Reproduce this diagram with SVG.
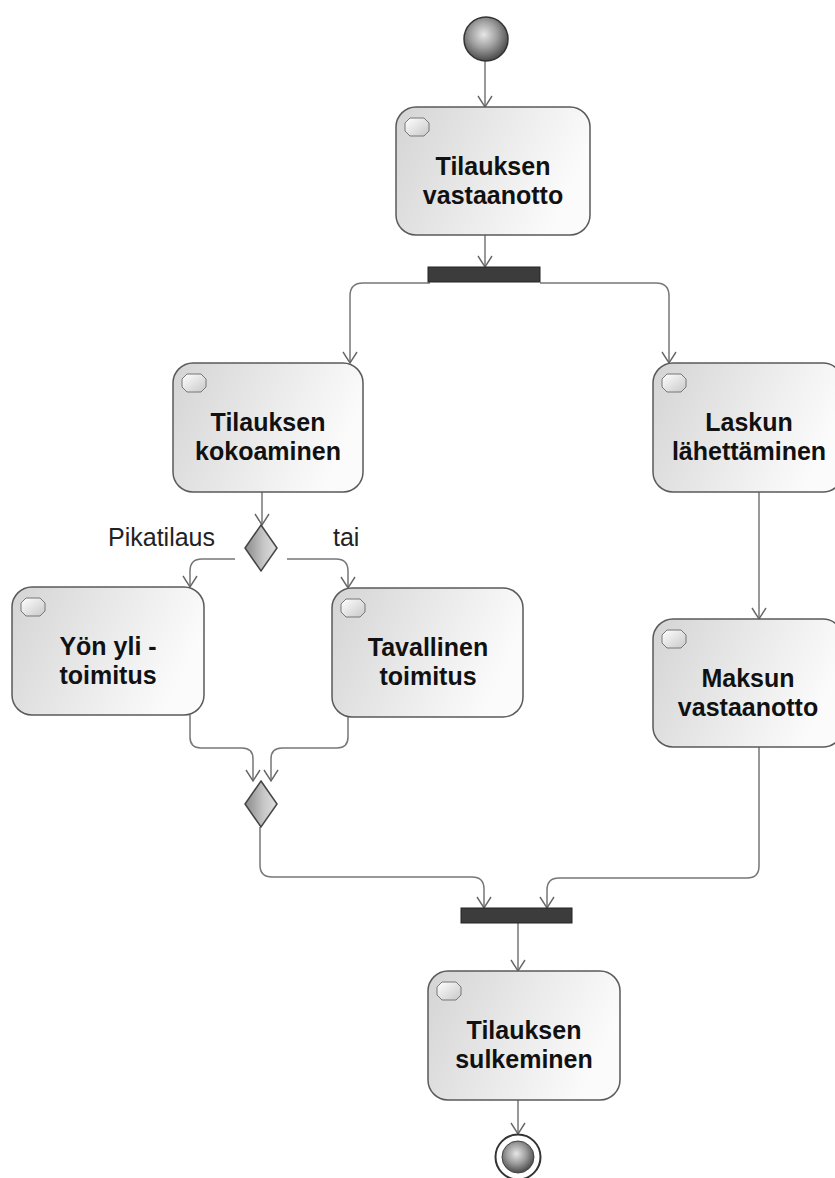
<svg xmlns="http://www.w3.org/2000/svg" width="835" height="1178" viewBox="0 0 835 1178">
<defs>
  <linearGradient id="boxGrad" x1="0" y1="0" x2="1" y2="0.3">
    <stop offset="0" stop-color="#d4d4d4"/>
    <stop offset="0.5" stop-color="#e8e8e8"/>
    <stop offset="1" stop-color="#fbfbfb"/>
  </linearGradient>
  <linearGradient id="iconGrad" x1="0" y1="0" x2="1" y2="1">
    <stop offset="0" stop-color="#ffffff"/>
    <stop offset="1" stop-color="#c8c8c8"/>
  </linearGradient>
  <linearGradient id="diaGrad" x1="0" y1="0" x2="1" y2="0">
    <stop offset="0" stop-color="#8a8a8a"/>
    <stop offset="0.6" stop-color="#c8c8c8"/>
    <stop offset="1" stop-color="#e0e0e0"/>
  </linearGradient>
  <radialGradient id="ballGrad" cx="0.45" cy="0.4" r="0.6">
    <stop offset="0" stop-color="#e6e6e6"/>
    <stop offset="0.5" stop-color="#a0a0a0"/>
    <stop offset="1" stop-color="#4a4a4a"/>
  </radialGradient>
  <marker id="arr" markerWidth="16" markerHeight="16" refX="12" refY="8" orient="auto" markerUnits="userSpaceOnUse">
    <path d="M1,1 L12,8 L1,15" fill="none" stroke="#666" stroke-width="1.4"/>
  </marker>
</defs>
<style>
  .box { fill: url(#boxGrad); stroke: #5a5a5a; stroke-width: 1.5; }
  .icon { fill: url(#iconGrad); stroke: #777; stroke-width: 1; }
  .lbl { font-family: "Liberation Sans", Arial, sans-serif; font-size: 25px; font-weight: bold; fill: #111; text-anchor: middle; }
  .guard { font-family: "Liberation Sans", Arial, sans-serif; font-size: 25px; fill: #222; }
  .bar { fill: #3c3c3c; stroke: #222; stroke-width: 1; }
  .dia { fill: url(#diaGrad); stroke: #444; stroke-width: 1.5; }
  .edge { fill: none; stroke: #777; stroke-width: 1.5; }
</style>
<rect width="835" height="1178" fill="#ffffff"/>

<g id="connectors">
  <path class="edge" d="M485,61 L485,107" marker-end="url(#arr)"/>
  <path class="edge" d="M485,235 L485,267" marker-end="url(#arr)"/>
  <path class="edge" d="M430,283 L363,283 Q350,283 350,296 L350,363" marker-end="url(#arr)"/>
  <path class="edge" d="M540,283 L656,283 Q669,283 669,296 L669,363" marker-end="url(#arr)"/>
  <path class="edge" d="M262,492 L262,525" marker-end="url(#arr)"/>
  <path class="edge" d="M235,559 L202,559 Q190,559 190,571 L190,587" marker-end="url(#arr)"/>
  <path class="edge" d="M287,559 L336,559 Q348,559 348,571 L348,588" marker-end="url(#arr)"/>
  <path class="edge" d="M759,492 L759,619" marker-end="url(#arr)"/>
  <path class="edge" d="M190,715 L190,737 Q190,748 201,748 L242,748 Q253,748 253,759 L253,781" marker-end="url(#arr)"/>
  <path class="edge" d="M348,717 L348,737 Q348,748 337,748 L282,748 Q271,748 271,759 L271,781" marker-end="url(#arr)"/>
  <path class="edge" d="M260,827 L260,865 Q260,877 272,877 L472,877 Q484,877 484,889 L484,908" marker-end="url(#arr)"/>
  <path class="edge" d="M759,747 L759,866 Q759,878 747,878 L559,878 Q547,878 547,890 L547,908" marker-end="url(#arr)"/>
  <path class="edge" d="M518,923 L518,971" marker-end="url(#arr)"/>
  <path class="edge" d="M518,1100 L518,1134" marker-end="url(#arr)"/>
  <text class="guard" x="108" y="546">Pikatilaus</text>
  <text class="guard" x="333" y="546">tai</text>
</g>

<g id="start">
  <circle cx="486" cy="39" r="22" fill="url(#ballGrad)" stroke="#333" stroke-width="1.5"/>
</g>

<g id="n1">
  <rect class="box" x="396" y="107" width="194" height="128" rx="20"/>
  <path class="icon" d="M410,118 L424,118 L429,123 L429,131 L424,136 L410,136 L405,131 L405,123 Z"/>
  <text class="lbl" x="493" y="175">Tilauksen</text>
  <text class="lbl" x="493" y="204">vastaanotto</text>
</g>

<g id="fork1"><rect class="bar" x="428" y="267" width="112" height="15"/></g>

<g id="n2">
  <rect class="box" x="173" y="363" width="190" height="129" rx="20"/>
  <path class="icon" d="M187,374 L201,374 L206,379 L206,387 L201,392 L187,392 L182,387 L182,379 Z"/>
  <text class="lbl" x="268" y="431">Tilauksen</text>
  <text class="lbl" x="268" y="460">kokoaminen</text>
</g>

<g id="n3">
  <rect class="box" x="653" y="363" width="190" height="129" rx="20"/>
  <path class="icon" d="M667,374 L681,374 L686,379 L686,387 L681,392 L667,392 L662,387 L662,379 Z"/>
  <text class="lbl" x="749" y="431">Laskun</text>
  <text class="lbl" x="749" y="460">lähettäminen</text>
</g>

<g id="d1"><path class="dia" d="M261,525 L277,548 L261,571 L245,548 Z"/></g>

<g id="n4">
  <rect class="box" x="12" y="587" width="192" height="128" rx="20"/>
  <path class="icon" d="M26,598 L40,598 L45,603 L45,611 L40,616 L26,616 L21,611 L21,603 Z"/>
  <text class="lbl" x="108" y="655">Yön yli -</text>
  <text class="lbl" x="108" y="684">toimitus</text>
</g>

<g id="n5">
  <rect class="box" x="332" y="588" width="191" height="129" rx="20"/>
  <path class="icon" d="M346,599 L360,599 L365,604 L365,612 L360,617 L346,617 L341,612 L341,604 Z"/>
  <text class="lbl" x="428" y="656">Tavallinen</text>
  <text class="lbl" x="428" y="685">toimitus</text>
</g>

<g id="n6">
  <rect class="box" x="653" y="619" width="190" height="128" rx="20"/>
  <path class="icon" d="M667,630 L681,630 L686,635 L686,643 L681,648 L667,648 L662,643 L662,635 Z"/>
  <text class="lbl" x="748" y="687">Maksun</text>
  <text class="lbl" x="748" y="716">vastaanotto</text>
</g>

<g id="d2"><path class="dia" d="M261,781 L277,804 L261,827 L245,804 Z"/></g>

<g id="join"><rect class="bar" x="461" y="908" width="111" height="15"/></g>

<g id="n7">
  <rect class="box" x="428" y="971" width="192" height="129" rx="20"/>
  <path class="icon" d="M442,982 L456,982 L461,987 L461,995 L456,1000 L442,1000 L437,995 L437,987 Z"/>
  <text class="lbl" x="524" y="1039">Tilauksen</text>
  <text class="lbl" x="524" y="1068">sulkeminen</text>
</g>

<g id="end">
  <circle cx="518" cy="1157" r="22.5" fill="#ffffff" stroke="#333" stroke-width="2"/>
  <circle cx="518" cy="1157" r="16" fill="url(#ballGrad)" stroke="#444" stroke-width="1"/>
</g>
</svg>
